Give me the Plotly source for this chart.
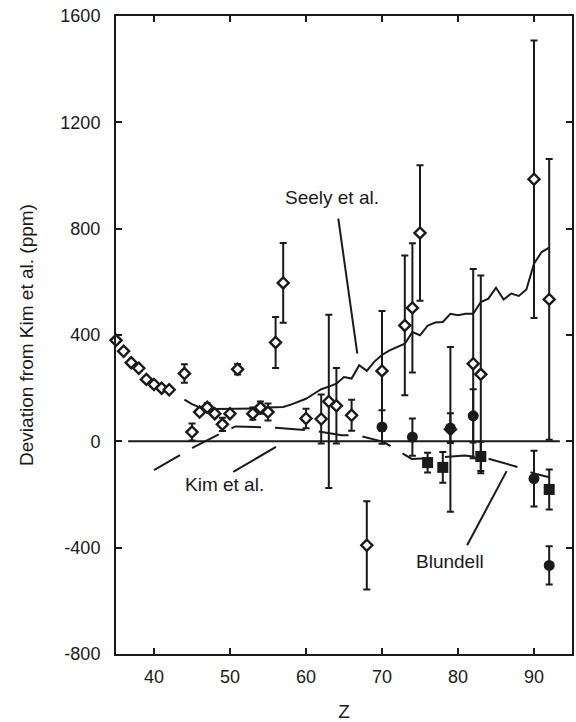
import plotly.graph_objects as go

# ---- data ----
diam_z = [35, 36, 37, 38, 39, 40, 41, 42, 44, 45, 46, 47, 48, 49, 50, 51, 53, 54, 55, 56, 57,
          60, 62, 63, 64, 66, 68, 70, 73, 74, 75, 79, 82, 83, 90, 92]
diam_y = [380, 339, 296, 275, 233, 214, 200, 194, 255, 35, 110, 128, 104, 64, 104, 271, 104, 127, 110, 372, 596,
          86, 84, 150, 134, 98, -391, 265, 436, 502, 784, 45, 292, 252, 986, 534]
diam_err = [0, 0, 0, 0, 0, 0, 0, 0, 35, 32, 0, 15, 0, 25, 0, 20, 23, 23, 32, 96, 150,
            37, 92, 326, 142, 58, 166, 225, 263, 243, 255, 310, 356, 372, 522, 528]

circ_z = [70, 74, 79, 82, 90, 92]
circ_y = [54, 16, 50, 96, -140, -467]
circ_err = [63, 70, 56, 100, 105, 72]

sq_z = [76, 78, 83, 92]
sq_y = [-80, -98, -57, -181]
sq_err = [37, 58, 55, 75]

seely_z = [44, 45, 46, 47, 48, 49, 50, 51, 52, 53, 54, 55, 56, 57, 58, 59, 60, 61, 62, 63, 64, 65, 66, 67, 68,
           69, 70, 71, 72, 73, 74, 75, 76, 77, 78, 79, 80, 81, 82, 83, 84, 85, 86, 87, 88, 89, 90, 91, 92]
seely_y = [157, 140, 128, 123, 122, 122, 122, 122, 122, 122, 124, 127, 129, 129, 138, 150, 160, 178, 196, 206,
           217, 242, 236, 286, 265, 300, 325, 342, 355, 367, 411, 399, 435, 447, 449, 480, 474, 480, 480, 524,
           537, 578, 533, 556, 547, 571, 668, 712, 729]

blundell_z = [40, 43.5, 45.3, 49.1, 50.7, 54, 56, 59.4, 61.4, 64.7, 66.7, 70.2, 71.9, 73.9, 76, 78.5, 80.9,
              84, 86.2, 87.9, 89.9, 92]
blundell_y = [-108, -50, -21, 34, 56, 53, 51, 44, 38, 23, 23, -2, -31, -66, -64, -59, -53, -65, -84, -97,
              -120, -135]

kim_z = [36.6, 93.4]
kim_y = [0, 0]

x_ticks = [40, 50, 60, 70, 80, 90]
x_ticktext = ["40", "50", "60", "70", "80", "90"]
y_ticks = [-800, -400, 0, 400, 800, 1200, 1600]
y_ticktext = ["-800", "-400", "0", "400", "800", "1200", "1600"]

FONT = "Liberation Sans, Arial, Helvetica, sans-serif"
INK = "#1a1a1a"

fig = go.Figure()

fig.add_trace(go.Scatter(x=seely_z, y=seely_y, mode="lines",
                         line=dict(color=INK, width=2), name="Seely et al."))
fig.add_trace(go.Scatter(x=blundell_z, y=blundell_y, mode="lines",
                         line=dict(color=INK, width=2, dash="30px,14px"), name="Blundell"))
fig.add_trace(go.Scatter(x=kim_z, y=kim_y, mode="lines",
                         line=dict(color=INK, width=2), name="Kim et al."))

err_style = dict(type="data", symmetric=True, color=INK, thickness=2, width=3.5)

fig.add_trace(go.Scatter(x=diam_z, y=diam_y, mode="markers", cliponaxis=False,
                         error_y=dict(array=diam_err, **err_style),
                         marker=dict(symbol="diamond", size=8.5, color="white",
                                     line=dict(color=INK, width=2.4))))
fig.add_trace(go.Scatter(x=circ_z, y=circ_y, mode="markers",
                         error_y=dict(array=circ_err, **err_style),
                         marker=dict(symbol="circle", size=11, color=INK,
                                     line=dict(color=INK, width=0))))
fig.add_trace(go.Scatter(x=sq_z, y=sq_y, mode="markers",
                         error_y=dict(array=sq_err, **err_style),
                         marker=dict(symbol="square", size=11, color=INK,
                                     line=dict(color=INK, width=0))))

# pointer lines for labels
pointers = [
    (64.25, 838, 66.75, 330),
    (50.43, -115, 56.05, -21),
    (81.2, -391, 86.4, -112),
]
for x0, y0, x1, y1 in pointers:
    fig.add_shape(type="line", xref="x", yref="y", x0=x0, y0=y0, x1=x1, y1=y1,
                  line=dict(color=INK, width=2))

labels = [("Seely et al.", 63.4, 918), ("Kim et al.", 49.3, -162), ("Blundell", 78.9, -451)]
for txt, lx, ly in labels:
    fig.add_annotation(x=lx, y=ly, xref="x", yref="y", text=txt, showarrow=False,
                       font=dict(family=FONT, size=19, color=INK))

axis_common = dict(showline=True, linecolor=INK, linewidth=2, mirror="ticks",
                   ticks="inside", ticklen=6, tickwidth=2, tickcolor=INK,
                   showgrid=False, zeroline=False, automargin=False,
                   ticklabeloverflow="allow",
                   tickfont=dict(family=FONT, size=18, color=INK))

fig.update_layout(
    width=576, height=722,
    margin=dict(l=116, r=4, t=16, b=68),
    paper_bgcolor="white", plot_bgcolor="white",
    showlegend=False,
    xaxis=dict(range=[35, 95], tickvals=x_ticks, ticktext=x_ticktext, ticklabelstandoff=5,
               title=dict(text="Z", font=dict(family=FONT, size=19, color=INK), standoff=20),
               **axis_common),
    yaxis=dict(range=[-800, 1600], tickvals=y_ticks, ticktext=y_ticktext, ticklabelstandoff=10,
               title=dict(text="Deviation from Kim et al. (ppm)",
                          font=dict(family=FONT, size=19, color=INK), standoff=22),
               **axis_common),
)

# remove the browser's default 8px page margin so the figure fills the window exactly
fig.write_html("out.html", config={"displayModeBar": False},
               post_script="document.body.style.margin='0';")
